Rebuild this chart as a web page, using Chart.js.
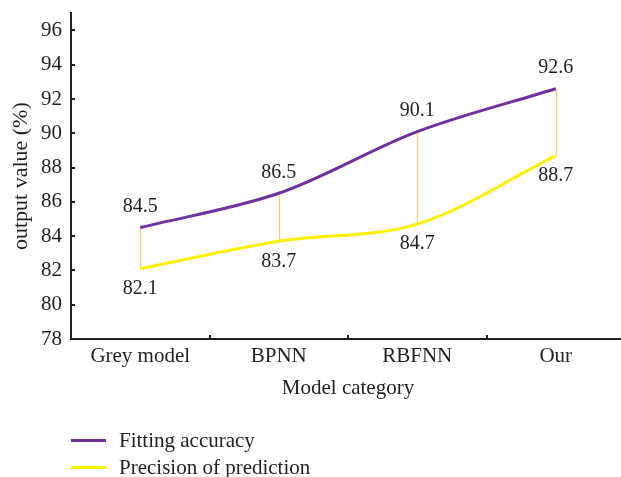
<!DOCTYPE html>
<html>
<head>
<meta charset="utf-8">
<script src="https://cdn.jsdelivr.net/npm/chart.js@4/dist/chart.umd.min.js"></script>
<style>
  html, body { margin: 0; padding: 0; background: #fff; overflow: hidden; }
  #wrap { position: relative; width: 621px; height: 477px; overflow: hidden; }
  #chart { position: absolute; left: 0; top: -2px; }
  #legend { position: absolute; left: 71px; top: 427px; font-family: "Liberation Serif", serif; font-size: 21px; color: #231F20; }
  .item { display: flex; align-items: center; height: 27px; white-space: nowrap; }
  .swatch { width: 35px; height: 3px; margin-right: 13px; }
</style>
</head>
<body>
<div id="wrap">
  <canvas id="chart" width="630" height="477"></canvas>
  <div id="legend"></div>
</div>
<script>
// Model comparison: fitting accuracy vs. precision of prediction (%)
const categories = ["Grey model", "BPNN", "RBFNN", "Our"];
const fittingAccuracy = [84.5, 86.5, 90.1, 92.6];
const predictionPrecision = [82.1, 83.7, 84.7, 88.7];
const yTicks = [78, 80, 82, 84, 86, 88, 90, 92, 94, 96];
const seriesNames = ["Fitting accuracy", "Precision of prediction"];

const INK = "#231F20";
const PURPLE = "#7030A0";
const YELLOW = "#FFF000";
const DROP = "#FFC97A";
const SERIF = "'Liberation Serif', 'Times New Roman', serif";

Chart.defaults.font.family = SERIF;
Chart.defaults.font.size = 21;
Chart.defaults.color = INK;

// Vertical connectors between the two series at each category
const dropLines = {
  id: "dropLines",
  beforeDatasetsDraw(chart) {
    const a = chart.getDatasetMeta(0).data;
    const b = chart.getDatasetMeta(1).data;
    const ctx = chart.ctx;
    ctx.save();
    ctx.strokeStyle = DROP;
    ctx.lineWidth = 1.3;
    for (let i = 0; i < a.length; i++) {
      const x = Math.round(a[i].x) + 0.5;
      ctx.beginPath();
      ctx.moveTo(x, a[i].y);
      ctx.lineTo(x, b[i].y);
      ctx.stroke();
    }
    ctx.restore();
  }
};

// Inward tick marks on both axes
const innerTicks = {
  id: "innerTicks",
  afterDraw(chart) {
    const ctx = chart.ctx;
    const xs = chart.scales.x, ys = chart.scales.y;
    const area = chart.chartArea;
    ctx.save();
    ctx.strokeStyle = INK;
    ctx.lineWidth = 2;
    yTicks.forEach(v => {
      if (v === ys.min) return;
      const y = Math.round(ys.getPixelForValue(v));
      ctx.beginPath();
      ctx.moveTo(area.left, y);
      ctx.lineTo(area.left + 4, y);
      ctx.stroke();
    });
    for (let i = 1; i < categories.length; i++) {
      const x = Math.round((xs.getPixelForValue(i - 1) + xs.getPixelForValue(i)) / 2);
      ctx.beginPath();
      ctx.moveTo(x, area.bottom);
      ctx.lineTo(x, area.bottom - 4);
      ctx.stroke();
    }
    ctx.restore();
  }
};

// Value labels: above the upper series, below the lower one
const valueLabels = {
  id: "valueLabels",
  afterDatasetsDraw(chart) {
    const ctx = chart.ctx;
    ctx.save();
    ctx.font = "20px " + SERIF;
    ctx.fillStyle = INK;
    ctx.textAlign = "center";
    ctx.textBaseline = "middle";
    chart.data.datasets.forEach((ds, di) => {
      const pts = chart.getDatasetMeta(di).data;
      const off = di === 0 ? -21 : 20;
      pts.forEach((p, i) => {
        ctx.fillText(ds.data[i].toFixed(1), p.x, p.y + off);
      });
    });
    ctx.restore();
  }
};

const chart = new Chart(document.getElementById("chart"), {
  type: "line",
  data: {
    labels: categories,
    datasets: [
      { label: seriesNames[0], data: fittingAccuracy, borderColor: PURPLE, backgroundColor: PURPLE, borderWidth: 3, pointRadius: 0, tension: 0.33, fill: false },
      { label: seriesNames[1], data: predictionPrecision, borderColor: YELLOW, backgroundColor: YELLOW, borderWidth: 3, pointRadius: 0, tension: 0.33, fill: false }
    ]
  },
  options: {
    responsive: false,
    animation: false,
    layout: { padding: { top: 9, right: 5, left: 0, bottom: 0 } },
    plugins: { legend: { display: false }, tooltip: { enabled: false } },
    scales: {
      x: {
        offset: true,
        grid: { display: false, drawTicks: false },
        border: { display: true, color: INK, width: 2 },
        ticks: { padding: 5, color: INK, maxRotation: 0, autoSkip: false },
        title: { display: true, text: "Model category", color: INK, padding: { top: 0, bottom: 74 } },
        afterFit(s) { s.height = 136; }
      },
      y: {
        min: 78,
        max: 97,
        grid: { display: false, drawTicks: false },
        border: { display: true, color: INK, width: 2 },
        ticks: { padding: 9, color: INK, font: { size: 21, lineHeight: 0.6 } },
        afterBuildTicks(s) { s.ticks = yTicks.map(v => ({ value: v })); },
        title: { display: true, text: "output value (%)", color: INK, font: { size: 22 }, padding: { top: 8, bottom: 0 } },
        afterFit(s) { s.width = 71; }
      }
    }
  },
  plugins: [dropLines, innerTicks, valueLabels]
});

// Legend built from the chart's datasets
const legend = document.getElementById("legend");
chart.data.datasets.forEach(ds => {
  const item = document.createElement("div");
  item.className = "item";
  const sw = document.createElement("span");
  sw.className = "swatch";
  sw.style.background = ds.borderColor;
  const tx = document.createElement("span");
  tx.textContent = ds.label;
  item.appendChild(sw);
  item.appendChild(tx);
  legend.appendChild(item);
});
</script>
</body>
</html>
